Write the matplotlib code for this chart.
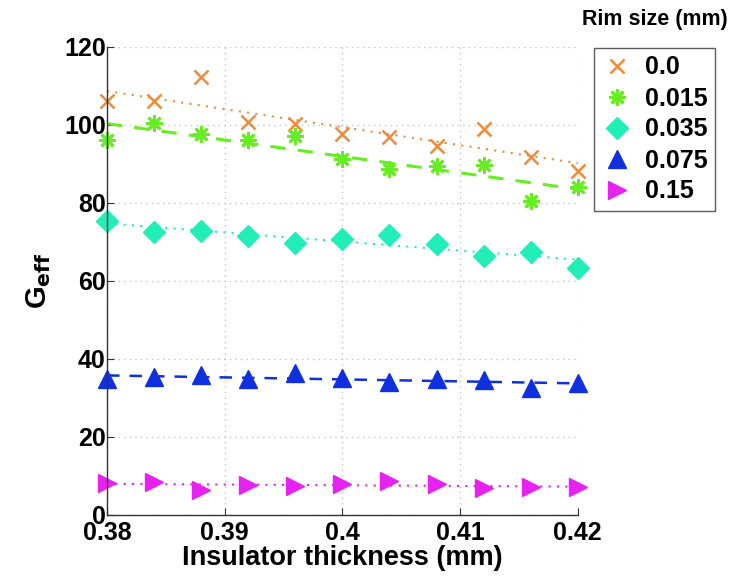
import numpy as np
import matplotlib
matplotlib.use("Agg")
import matplotlib.pyplot as plt

thickness = [0.380, 0.384, 0.388, 0.392, 0.396, 0.400, 0.404, 0.408, 0.412, 0.416, 0.420]
rim_labels = ["0.0", "0.015", "0.035", "0.075", "0.15"]
g_rim_000 = [106.2, 106.2, 112.3, 100.7, 100.3, 97.8, 96.9, 94.6, 99.1, 91.8, 88.1]
g_rim_015 = [96.1, 100.5, 97.6, 96.1, 97.3, 91.2, 88.7, 89.5, 89.8, 80.4, 84.2]
g_rim_035 = [75.5, 72.5, 72.8, 71.5, 69.8, 70.8, 71.9, 69.4, 66.4, 67.4, 63.4]
g_rim_075 = [35.0, 35.3, 35.8, 34.9, 36.3, 35.2, 34.1, 34.9, 34.5, 32.6, 33.9]
g_rim_150 = [8.2, 8.4, 6.5, 7.7, 7.4, 8.0, 8.7, 8.0, 6.8, 7.1, 7.1]
xticks = [0.38, 0.39, 0.40, 0.41, 0.42]
xtick_labels = ["0.38", "0.39", "0.4", "0.41", "0.42"]
yticks = [0, 20, 40, 60, 80, 100, 120]

series = [g_rim_000, g_rim_015, g_rim_035, g_rim_075, g_rim_150]
colors = ["#F08A3A", "#66EE22", "#22EEB8", "#1030E0", "#E622F0"]
markers = ["x", (8, 2, 0), "D", "^", ">"]
msizes = [10, 12, 11, 13, 13]
mews = [1.8, 2.0, 1.0, 1.0, 1.0]
lstyles = [(0, (1, 3)), (0, (5, 4)), (0, (1, 3)), (0, (5, 4)), (0, (1, 3))]
lwidths = [1.5, 2.2, 1.5, 1.8, 1.5]

plt.rcParams['font.family'] = ['Liberation Sans', 'DejaVu Sans']
plt.rcParams['font.weight'] = 'bold'

fig = plt.figure(figsize=(7.36, 5.77), dpi=100)
bottom = 1 - 515 / 577
top = 1 - 47 / 577
ax = fig.add_axes([0.1454, bottom, 0.785 - 0.1454, top - bottom])

x = np.array(thickness)
handles = []
for ys, c, m, ms, mew, ls, lw, lab in zip(series, colors, markers, msizes, mews, lstyles, lwidths, rim_labels):
    ys = np.array(ys)
    p = np.polyfit(x, ys, 1)
    ax.plot(x, np.polyval(p, x), color=c, linestyle=ls, linewidth=lw)
    h, = ax.plot(x, ys, linestyle='none', marker=m, markersize=ms, color=c,
                 markeredgecolor=c, markeredgewidth=mew, label=lab, clip_on=False)
    handles.append(h)

ax.set_xlim(0.38, 0.42)
ax.set_ylim(0, 120)
ax.set_xticks(xticks)
ax.set_xticklabels(xtick_labels)
ax.set_yticks(yticks)
ax.grid(True, color='#c4c4c4', linestyle=(0, (1, 3)), linewidth=1.0)
ax.set_axisbelow(True)
for s in ['top', 'right']:
    ax.spines[s].set_visible(False)
for s in ['left', 'bottom']:
    ax.spines[s].set_color('#333333')
    ax.spines[s].set_linewidth(1.0)
ax.tick_params(direction='in', length=5, width=0.8, colors='#333333', labelcolor='black',
               labelsize=18, pad=1)
ax.tick_params(axis='x', pad=4)
for t in ax.get_xticklabels() + ax.get_yticklabels():
    t.set_fontweight('bold')

ax.set_xlabel("Insulator thickness (mm)", fontsize=19.5, fontweight='bold', labelpad=0)
ax.set_ylabel(r"G$_{\mathbf{eff}}$", fontsize=21, fontweight='bold', labelpad=8)

leg = fig.legend(handles=handles, loc='upper left', bbox_to_anchor=(594 / 736, 1 - 48 / 577),
                 frameon=True, fancybox=False, edgecolor='#333333', prop={'size': 18, 'weight': 'bold'},
                 handlelength=1.2, handletextpad=0.55, borderpad=0.3, labelspacing=0.28,
                 borderaxespad=0)
leg.get_frame().set_linewidth(1.0)
fig.text(655 / 736, 1 - 20 / 577, "Rim size (mm)", ha='center', va='center',
         fontsize=15.5, fontweight='bold')

fig.savefig("out.png", dpi=100, facecolor='white')
